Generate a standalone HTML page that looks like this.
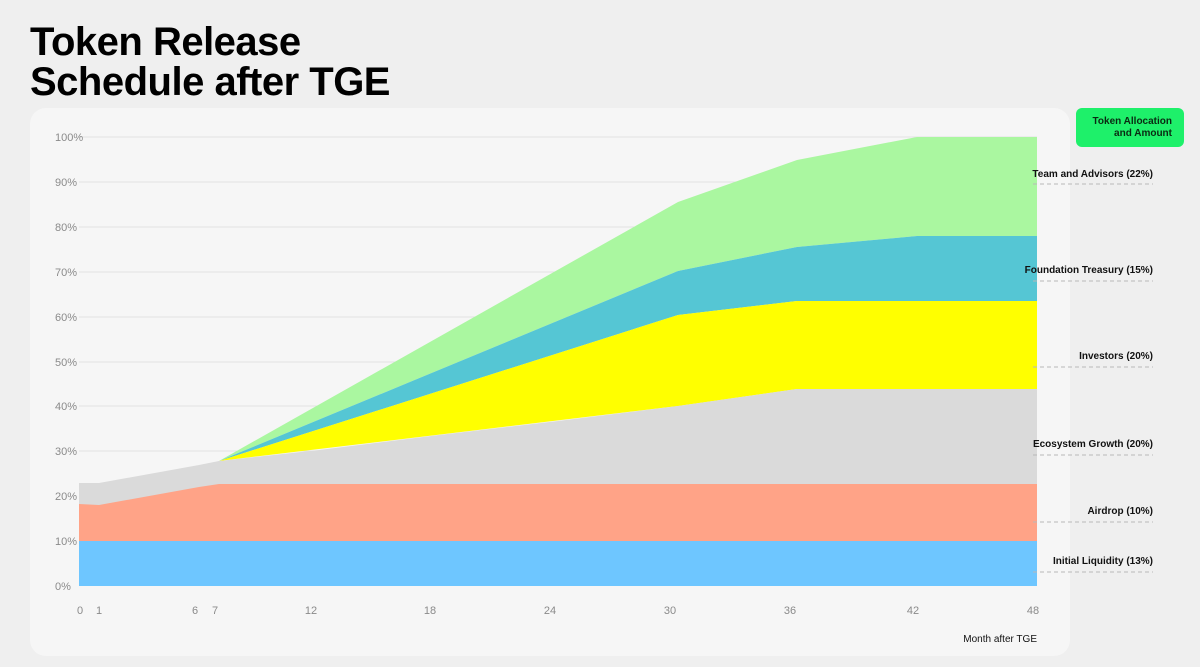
<!DOCTYPE html>
<html><head><meta charset="utf-8"><style>
body{margin:0;width:1200px;height:667px;background:#efefef;font-family:"Liberation Sans",Arial,sans-serif;overflow:hidden;position:relative}
.title{position:absolute;left:30px;top:22px;font-size:40px;font-weight:bold;line-height:40px;color:#000;letter-spacing:-0.5px}
.card{position:absolute;left:30px;top:108px;width:1040px;height:548px;background:#f6f6f6;border-radius:16px}
svg{position:absolute;left:0;top:0}
</style></head><body>
<div class="card"></div>
<div class="title">Token Release<br>Schedule after TGE</div>
<svg width="1200" height="667" font-family="Liberation Sans, Arial, sans-serif">
<g stroke="#e2e2e2" stroke-width="1">
<line x1="79" x2="1037" y1="137" y2="137"/><line x1="79" x2="1037" y1="182" y2="182"/><line x1="79" x2="1037" y1="227" y2="227"/><line x1="79" x2="1037" y1="272" y2="272"/><line x1="79" x2="1037" y1="317" y2="317"/><line x1="79" x2="1037" y1="362" y2="362"/><line x1="79" x2="1037" y1="406" y2="406"/><line x1="79" x2="1037" y1="451" y2="451"/><line x1="79" x2="1037" y1="496" y2="496"/><line x1="79" x2="1037" y1="541" y2="541"/>
</g>
<g font-size="11" fill="#8a8a8a">
<text x="55" y="141">100%</text><text x="55" y="186">90%</text><text x="55" y="231">80%</text><text x="55" y="276">70%</text><text x="55" y="321">60%</text><text x="55" y="366">50%</text><text x="55" y="410">40%</text><text x="55" y="455">30%</text><text x="55" y="500">20%</text><text x="55" y="545">10%</text><text x="55" y="590">0%</text>
</g>
<polygon fill="#aaf7a0" points="199,463 219,461 678,202 797,160 917,137 1037,137 1037,236 917,236 797,247 678,271 219,461"/>
<polygon fill="#55c6d4" points="199,463 219,461 678,271 797,247 917,236 1037,236 1037,301 797,301 678,315 219,461"/>
<polygon fill="#ffff00" points="199,463 219,461 678,315 797,301 1037,301 1037,389 797,389 678,406 219,461"/>
<polygon fill="#dadada" points="79,483 99,483 199,465 219,461 319,450 439,435 558,421 678,406 797,389 1037,389 1037,586 79,586"/>
<polygon fill="#ffa387" points="79,504 99,505 199,487 219,484 1037,484 1037,586 79,586"/>
<rect x="79" y="541" width="958" height="45" fill="#6ec6ff"/>
<g font-size="11" fill="#8a8a8a" text-anchor="middle">
<text x="80" y="614">0</text><text x="99" y="614">1</text><text x="195" y="614">6</text><text x="215" y="614">7</text><text x="311" y="614">12</text><text x="430" y="614">18</text><text x="550" y="614">24</text><text x="670" y="614">30</text><text x="790" y="614">36</text><text x="913" y="614">42</text><text x="1033" y="614">48</text>
</g>
<text x="1037" y="642" font-size="10" fill="#111" text-anchor="end">Month after TGE</text>
<rect x="1076" y="108" width="108" height="39" rx="6" fill="#1ef06a"/>
<text font-size="10" font-weight="bold" fill="#0a2a12" text-anchor="end"><tspan x="1172" y="124">Token Allocation</tspan><tspan x="1172" y="136">and Amount</tspan></text>
<g font-size="10" font-weight="bold" fill="#111" text-anchor="end">
<text x="1153" y="177">Team and Advisors (22%)</text>
<text x="1153" y="273">Foundation Treasury (15%)</text>
<text x="1153" y="359">Investors (20%)</text>
<text x="1153" y="447">Ecosystem Growth (20%)</text>
<text x="1153" y="514">Airdrop (10%)</text>
<text x="1153" y="564">Initial Liquidity (13%)</text>
</g>
<g stroke="#b8b8b8" stroke-dasharray="4,3" stroke-width="1">
<line x1="1033" x2="1153" y1="184" y2="184"/><line x1="1033" x2="1153" y1="281" y2="281"/><line x1="1033" x2="1153" y1="367" y2="367"/><line x1="1033" x2="1153" y1="455" y2="455"/><line x1="1033" x2="1153" y1="522" y2="522"/><line x1="1033" x2="1153" y1="572" y2="572"/>
</g>
</svg>
</body></html>
